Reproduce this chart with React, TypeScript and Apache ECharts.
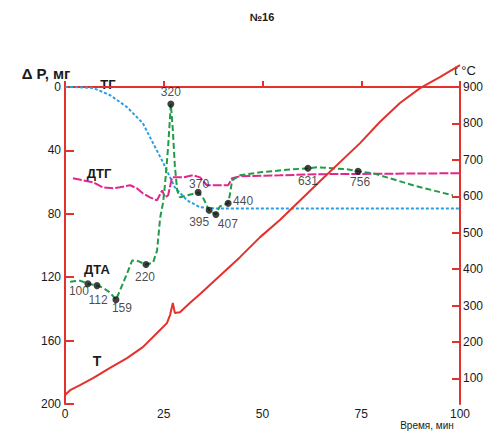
import React, { useEffect, useRef } from "react";
import * as echarts from "echarts";

// ТГ (mass loss, mg) vs time (min)
const tgTime = [0, 2.5, 7.1, 11.4, 15.7, 19.7, 21.5, 24.8, 27.8, 30.9, 34.2, 38, 100];
const tgValues = [0, 0, 0.6, 5.1, 12.7, 22.8, 31.6, 47.5, 63.3, 71.5, 75.9, 76.6, 76.6];

// ДТГ
const dtgTime = [2.0, 7.1, 9.6, 12.2, 13.9, 16.5, 18.2, 19.7, 21.5, 23.3, 24.6, 25.3, 26.1, 27.1, 29.9, 32.4, 34.2, 35.9, 37.5, 41.3, 42.3, 44.3, 54.4, 64.6, 100];
const dtgValues = [57.6, 60.1, 63.3, 63.9, 63.3, 62.0, 63.9, 67.1, 69.6, 71.5, 65.2, 69.6, 68.4, 57.0, 57.0, 55.7, 57.0, 62.0, 62.0, 62.0, 57.6, 56.3, 55.7, 55.0, 54.4];

// ДТА
const dtaTime = [1.3, 3.8, 5.8, 8.1, 9.6, 11.4, 12.9, 13.9, 15.7, 17.0, 18.2, 20.5, 22.3, 23.3, 24.1, 24.8, 25.3, 26.1, 26.8, 27.3, 27.8, 28.4, 29.1, 30.9, 33.7, 34.9, 36.5, 38.2, 39.2, 41.3, 41.8, 42.3, 44.3, 49.4, 57.7, 61.5, 63.8, 71.4, 74.2, 78, 81.5, 88.1, 98.2];
const dtaValues = [122.8, 122.2, 124.1, 125.3, 126.6, 129.7, 134.2, 128.5, 117.7, 109.5, 109.5, 112.0, 110.8, 103.2, 82.3, 73.4, 62.0, 38.0, 10.8, 27.2, 49.4, 65.2, 69.6, 68.4, 66.5, 69.6, 77.8, 80.4, 75.3, 73.4, 67.1, 58.9, 55.7, 53.8, 51.9, 51.3, 50.6, 51.9, 53.2, 54.4, 57.0, 62.0, 68.4];

// T (temperature, °C)
const tTime = [0, 1.3, 3.8, 7.1, 11.4, 15.7, 19.7, 23.3, 25.8, 26.6, 27.3, 27.8, 29.1, 31.6, 34.2, 44.3, 49.4, 54.4, 64.6, 74.7, 79.7, 84.8, 89.9, 94.9, 100];
const tValues = [55, 68, 82, 101, 129, 156, 186, 225, 252, 274, 307, 280, 282, 307, 332, 433, 488, 535, 642, 746, 804, 856, 897, 927, 960];

// Marked points on ДТА
const markTime = [5.8, 8.1, 12.9, 20.5, 26.8, 33.7, 36.5, 38.2, 41.3, 61.5, 74.2];
const markValues = [124.1, 125.3, 134.2, 112.0, 10.8, 66.5, 77.8, 80.4, 73.4, 51.3, 53.2];
const markLabels = ["100", "112", "159", "220", "320", "370", "395", "407", "440", "631", "756"];
const markOffsets = [[-9, 7], [1, 14], [6, 8], [-1, 12], [0, -12], [1, -8], [-10, 12], [12, 10], [15, -2], [0, 13], [2, 11]];

const xTicks = [0, 25, 50, 75, 100];

const RED = "#e3312d";
const BLUE = "#2b9ee4";
const MAGENTA = "#e2268b";
const GREEN = "#1e9c47";
const TXT = "#1a1a1a";
const FONT = "Liberation Sans";

const zip = (a: number[], b: number[]) => a.map((v, i) => [v, b[i]]);

export default function App() {
  const ref = useRef<HTMLDivElement>(null);
  useEffect(() => {
    if (!ref.current) return;
    const chart = echarts.init(ref.current, null, { renderer: "svg" });
    const txt = (text: string, x: number, y: number, size: number, bold = true) => ({
      type: "text",
      x,
      y,
      style: {
        text,
        fill: TXT,
        font: `${bold ? "bold " : ""}${size}px "${FONT}"`,
        align: "center",
        verticalAlign: "middle",
      },
    });
    chart.setOption({
      animation: false,
      backgroundColor: "#ffffff",
      grid: { left: 65, right: 34, top: 87, bottom: 31 },
      xAxis: {
        type: "value",
        min: xTicks[0],
        max: xTicks[xTicks.length - 1],
        interval: 25,
        axisLine: { lineStyle: { color: RED, width: 2 } },
        axisTick: { inside: true, length: 6, lineStyle: { color: RED, width: 2 } },
        axisLabel: { color: TXT, fontSize: 12, lineHeight: 11, fontFamily: FONT, margin: 4 },
        splitLine: { show: false },
      },
      yAxis: [
        {
          type: "value",
          inverse: true,
          min: 0,
          max: 200,
          interval: 40,
          axisLine: { show: true, lineStyle: { color: RED, width: 2 } },
          axisTick: { show: true, inside: true, length: 9, lineStyle: { color: RED, width: 2 } },
          axisLabel: { color: TXT, fontSize: 12, fontFamily: FONT, margin: 4 },
          splitLine: { show: false },
        },
        {
          type: "value",
          position: "right",
          min: 30,
          max: 900,
          splitNumber: 9,
          axisLine: { show: true, lineStyle: { color: RED, width: 2 } },
          axisTick: { show: true, inside: true, length: 8, lineStyle: { color: RED, width: 2 } },
          axisLabel: { color: TXT, fontSize: 12, fontFamily: FONT, margin: 3, showMinLabel: false },
          splitLine: { show: false },
        },
      ],
      series: [
        {
          type: "line",
          yAxisIndex: 0,
          data: zip(tgTime, tgValues),
          showSymbol: false,
          lineStyle: { color: BLUE, width: 2, type: [3, 2] },
        },
        {
          type: "line",
          yAxisIndex: 0,
          data: zip(dtgTime, dtgValues),
          showSymbol: false,
          lineStyle: { color: MAGENTA, width: 2, type: [9, 2] },
        },
        {
          type: "line",
          yAxisIndex: 0,
          data: zip(dtaTime, dtaValues),
          showSymbol: false,
          lineStyle: { color: GREEN, width: 2, type: [6, 3] },
        },
        {
          type: "line",
          yAxisIndex: 1,
          data: zip(tTime, tValues),
          showSymbol: false,
          clip: false,
          lineStyle: { color: RED, width: 2 },
        },
        {
          type: "scatter",
          yAxisIndex: 0,
          symbolSize: 7,
          itemStyle: { color: "#111111" },
          data: markTime.map((t, i) => ({
            value: [t, markValues[i]],
            label: {
              show: true,
              formatter: markLabels[i],
              position: "inside",
              offset: markOffsets[i],
              color: TXT,
              fontSize: 12,
              fontFamily: FONT,
            },
          })),
          z: 5,
        },
      ],
      graphic: [
        txt("№16", 262, 17, 11),
        txt("Δ P, мг", 46, 73, 15),
        txt("t °C", 465, 70, 13, false),
        txt("Время, мин", 427, 425, 10, false),
        txt("ТГ", 108, 84, 13),
        txt("ДТГ", 99, 173, 13),
        txt("ДТА", 97, 269, 13),
        txt("Т", 97, 361, 14),
      ],
    });
    return () => chart.dispose();
  }, []);
  return <div ref={ref} style={{ position: "fixed", left: 0, top: 0, width: 494, height: 435 }} />;
}
